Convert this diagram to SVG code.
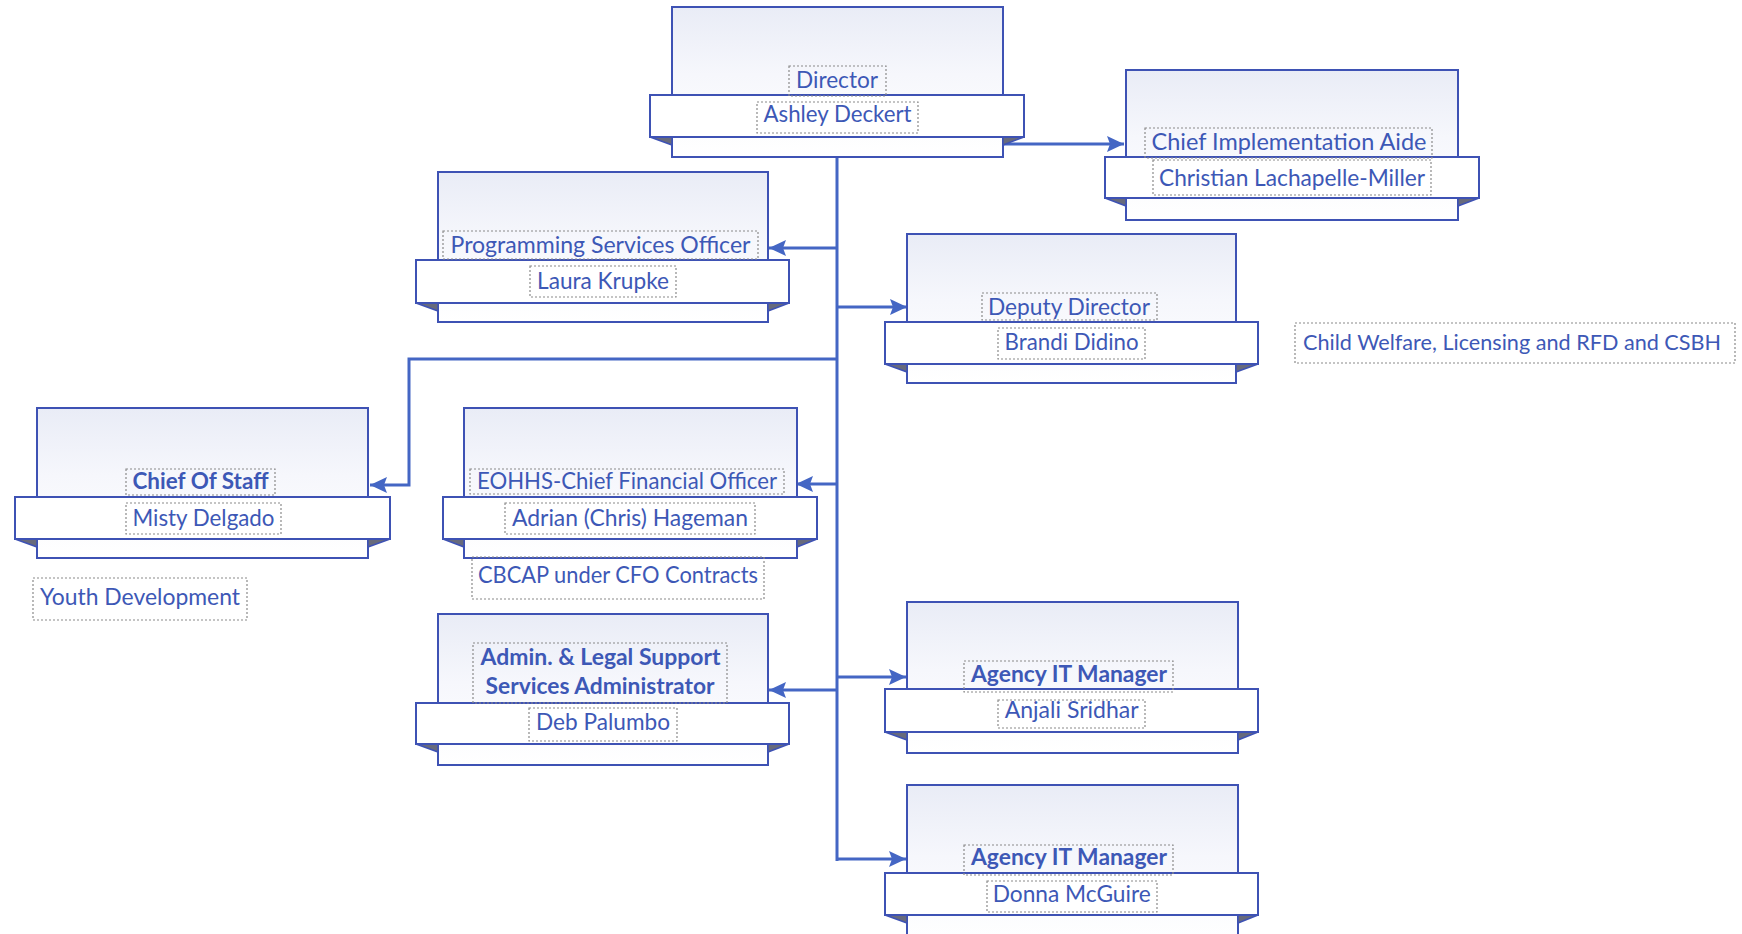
<svg xmlns="http://www.w3.org/2000/svg" width="1742" height="934" viewBox="0 0 1742 934">
<style>
.top{fill:url(#g);stroke:#3e52b4;stroke-width:2}
.band{fill:#ffffff;stroke:#3e52b4;stroke-width:2}
.fold{fill:#676a7c;stroke:#3e52b4;stroke-width:1.5;stroke-linejoin:round}
.dash{fill:none;stroke:#8a8a8a;stroke-width:1.2;stroke-dasharray:2 2}
.t{font-family:"Lato","Carlito","Liberation Sans",sans-serif;font-size:23px;fill:#3d58b6;text-anchor:middle}
.b{font-weight:bold}
.c{fill:none;stroke:#4466c4;stroke-width:3}
</style>
<defs>
<linearGradient id="g" x1="0" y1="0" x2="0" y2="1">
<stop offset="0" stop-color="#e9ecf6"/>
<stop offset="0.45" stop-color="#f6f7fc"/>
<stop offset="1" stop-color="#ffffff"/>
</linearGradient>
<marker id="ah" markerUnits="userSpaceOnUse" markerWidth="20" markerHeight="18" refX="17" refY="9" orient="auto">
<path d="M0,1 L17,9 L0,17 L3,9 Z" fill="#4466c4"/>
</marker>
</defs>
<rect width="1742" height="934" fill="#ffffff"/>

<g id="connectors">
<path class="c" d="M1003,144 H1124" marker-end="url(#ah)"/>
<path class="c" d="M837,157 V861"/>
<path class="c" d="M837,248 H769" marker-end="url(#ah)"/>
<path class="c" d="M837,307 H907" marker-end="url(#ah)"/>
<path class="c" d="M837,359 H409 V485 H370" marker-end="url(#ah)"/>
<path class="c" d="M837,484 H796" marker-end="url(#ah)"/>
<path class="c" d="M837,677 H906" marker-end="url(#ah)"/>
<path class="c" d="M837,690 H769" marker-end="url(#ah)"/>
<path class="c" d="M837,859 H906" marker-end="url(#ah)"/>
</g>

<g id="director">
<rect class="top" x="672" y="7" width="331" height="150"/>
<path class="fold" d="M650,137 L672,137 L672,145 Z"/>
<path class="fold" d="M1024,137 L1003,137 L1003,145 Z"/>
<rect class="band" x="650" y="95" width="374" height="42"/>
<rect class="dash" x="789" y="66" width="97" height="30"/>
<text class="t" x="837" y="88" textLength="82" lengthAdjust="spacingAndGlyphs">Director</text>
<rect class="dash" x="757" y="102" width="161" height="31"/>
<text class="t" x="837.5" y="122" textLength="148" lengthAdjust="spacingAndGlyphs">Ashley Deckert</text>
</g>

<g id="chief-implementation-aide">
<rect class="top" x="1126" y="70" width="332" height="150"/>
<path class="fold" d="M1105,198 L1126,198 L1126,206 Z"/>
<path class="fold" d="M1479,198 L1458,198 L1458,206 Z"/>
<rect class="band" x="1105" y="157" width="374" height="41"/>
<rect class="dash" x="1145" y="128" width="287" height="30"/>
<text class="t" x="1289" y="150" textLength="275" lengthAdjust="spacingAndGlyphs">Chief Implementation Aide</text>
<rect class="dash" x="1153" y="160" width="278" height="35"/>
<text class="t" x="1292" y="186" textLength="266" lengthAdjust="spacingAndGlyphs">Christian Lachapelle-Miller</text>
</g>

<g id="programming-services-officer">
<rect class="top" x="438" y="172" width="330" height="150"/>
<path class="fold" d="M416,303 L438,303 L438,311 Z"/>
<path class="fold" d="M789,303 L768,303 L768,311 Z"/>
<rect class="band" x="416" y="260" width="373" height="43"/>
<rect class="dash" x="443" y="231" width="315" height="28"/>
<text class="t" x="600.5" y="253" textLength="300" lengthAdjust="spacingAndGlyphs">Programming Services Officer</text>
<rect class="dash" x="530" y="266" width="146" height="31"/>
<text class="t" x="603" y="289" textLength="132" lengthAdjust="spacingAndGlyphs">Laura Krupke</text>
</g>

<g id="deputy-director">
<rect class="top" x="907" y="234" width="329" height="149"/>
<path class="fold" d="M885,364 L907,364 L907,372 Z"/>
<path class="fold" d="M1258,364 L1236,364 L1236,372 Z"/>
<rect class="band" x="885" y="322" width="373" height="42"/>
<rect class="dash" x="982" y="293" width="175" height="27"/>
<text class="t" x="1069" y="315" textLength="162" lengthAdjust="spacingAndGlyphs">Deputy Director</text>
<rect class="dash" x="998" y="328" width="147" height="31"/>
<text class="t" x="1071.6" y="350" textLength="134" lengthAdjust="spacingAndGlyphs">Brandi Didino</text>
</g>

<g id="child-welfare-note">
<rect class="dash" x="1295" y="323" width="440" height="40"/>
<text class="t" x="1512" y="350" style="font-size:21px" textLength="418" lengthAdjust="spacingAndGlyphs">Child Welfare, Licensing and RFD and CSBH</text>
</g>

<g id="chief-of-staff">
<rect class="top" x="37" y="408" width="331" height="150"/>
<path class="fold" d="M15,539 L37,539 L37,547 Z"/>
<path class="fold" d="M390,539 L368,539 L368,547 Z"/>
<rect class="band" x="15" y="497" width="375" height="42"/>
<rect class="dash" x="126" y="469" width="149" height="26"/>
<text class="t b" x="200.5" y="489" textLength="136" lengthAdjust="spacingAndGlyphs">Chief Of Staff</text>
<rect class="dash" x="126" y="503" width="155" height="31"/>
<text class="t" x="203.5" y="526" textLength="142" lengthAdjust="spacingAndGlyphs">Misty Delgado</text>
</g>

<g id="youth-development-note">
<rect class="dash" x="33" y="578" width="214" height="42"/>
<text class="t" x="140" y="605" textLength="200" lengthAdjust="spacingAndGlyphs">Youth Development</text>
</g>

<g id="cfo">
<rect class="top" x="464" y="408" width="333" height="150"/>
<path class="fold" d="M443,539 L464,539 L464,547 Z"/>
<path class="fold" d="M817,539 L797,539 L797,547 Z"/>
<rect class="band" x="443" y="497" width="374" height="42"/>
<rect class="dash" x="470" y="469" width="314" height="25"/>
<text class="t" x="627" y="489" textLength="300" lengthAdjust="spacingAndGlyphs">EOHHS-Chief Financial Officer</text>
<rect class="dash" x="505" y="503" width="250" height="31"/>
<text class="t" x="630" y="525.5" textLength="236" lengthAdjust="spacingAndGlyphs">Adrian (Chris) Hageman</text>
</g>

<g id="cbcap-note">
<rect class="dash" x="472" y="557" width="292" height="42"/>
<text class="t" x="618" y="582.5" textLength="280" lengthAdjust="spacingAndGlyphs">CBCAP under CFO Contracts</text>
</g>

<g id="admin-legal-support">
<rect class="top" x="438" y="614" width="330" height="151"/>
<path class="fold" d="M416,744 L438,744 L438,752 Z"/>
<path class="fold" d="M789,744 L768,744 L768,752 Z"/>
<rect class="band" x="416" y="703" width="373" height="41"/>
<rect class="dash" x="473" y="643" width="254" height="60"/>
<text class="t b" x="600.5" y="665" textLength="240" lengthAdjust="spacingAndGlyphs">Admin. &amp; Legal Support</text>
<text class="t b" x="600" y="694" textLength="229" lengthAdjust="spacingAndGlyphs">Services Administrator</text>
<rect class="dash" x="529" y="708" width="148" height="33"/>
<text class="t" x="603" y="730" textLength="134" lengthAdjust="spacingAndGlyphs">Deb Palumbo</text>
</g>

<g id="agency-it-manager-1">
<rect class="top" x="907" y="602" width="331" height="151"/>
<path class="fold" d="M885,732 L907,732 L907,740 Z"/>
<path class="fold" d="M1258,732 L1238,732 L1238,740 Z"/>
<rect class="band" x="885" y="689" width="373" height="43"/>
<rect class="dash" x="964" y="661" width="209" height="31"/>
<text class="t b" x="1069" y="681.5" textLength="196" lengthAdjust="spacingAndGlyphs">Agency IT Manager</text>
<rect class="dash" x="998" y="700" width="147" height="28"/>
<text class="t" x="1071.7" y="718" textLength="134" lengthAdjust="spacingAndGlyphs">Anjali Sridhar</text>
</g>

<g id="agency-it-manager-2">
<rect class="top" x="907" y="785" width="331" height="160"/>
<path class="fold" d="M885,915 L907,915 L907,923 Z"/>
<path class="fold" d="M1258,915 L1238,915 L1238,923 Z"/>
<rect class="band" x="885" y="873" width="373" height="42"/>
<rect class="dash" x="964" y="845" width="209" height="30"/>
<text class="t b" x="1069" y="865" textLength="196" lengthAdjust="spacingAndGlyphs">Agency IT Manager</text>
<rect class="dash" x="987" y="881" width="170" height="31"/>
<text class="t" x="1071.7" y="901.5" textLength="158" lengthAdjust="spacingAndGlyphs">Donna McGuire</text>
</g>
</svg>
